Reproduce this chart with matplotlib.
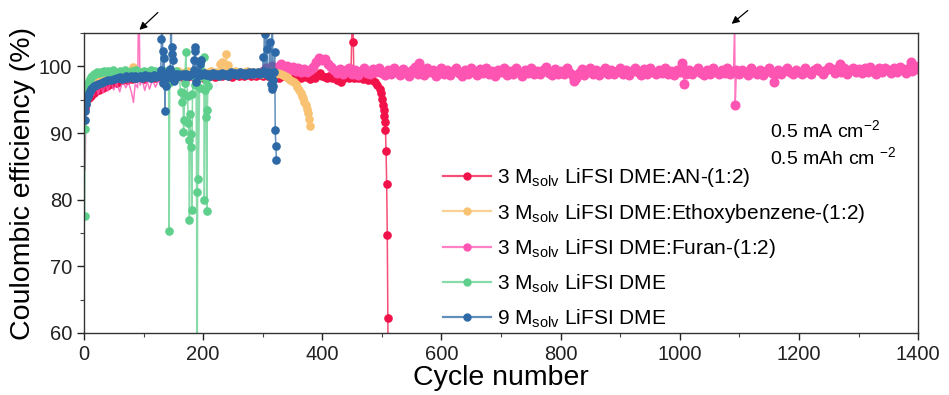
import matplotlib
matplotlib.use("Agg")
import matplotlib.pyplot as plt
from matplotlib.lines import Line2D
from matplotlib.ticker import MultipleLocator

plt.rcParams['font.family'] = ['Liberation Sans', 'DejaVu Sans']
plt.rcParams['mathtext.fontset'] = 'custom'
plt.rcParams['mathtext.rm'] = 'Liberation Sans'
plt.rcParams['mathtext.it'] = 'Liberation Sans:italic'

# ---------------- data ----------------
labels = ["3 M$_{\\mathrm{solv}}$ LiFSI DME:AN-(1:2)",
          "3 M$_{\\mathrm{solv}}$ LiFSI DME:Ethoxybenzene-(1:2)",
          "3 M$_{\\mathrm{solv}}$ LiFSI DME:Furan-(1:2)",
          "3 M$_{\\mathrm{solv}}$ LiFSI DME",
          "9 M$_{\\mathrm{solv}}$ LiFSI DME"]
colors = ["#F2124A", "#F8C272", "#FF55B2", "#5FCF8C", "#2D69A6"]

# --- 3 M DME:AN (red)
an_early_c = [1, 2, 3, 4, 5, 6, 8, 10, 12, 14, 16, 18, 20, 23, 26, 29, 32, 35, 38, 42, 46, 50, 55, 60]
an_early_v = [93.8, 94.6, 95.0, 94.4, 95.3, 95.8, 95.2, 96.0, 95.6, 96.4, 96.0, 96.7, 96.3, 96.9, 96.5,
              97.2, 96.8, 97.4, 97.0, 97.6, 97.3, 97.8, 97.5, 98.0]
an_mid_c = list(range(64, 497, 4))
an_mid_v = [98.0, 98.2, 97.9, 98.3, 98.1, 98.4, 98.2, 98.5, 98.3, 98.1, 98.4, 98.6, 98.2, 98.5, 98.3, 98.6, 98.4, 98.2, 98.5, 98.7,
            98.4, 98.6, 98.3, 98.5, 98.7, 98.4, 98.6, 98.2, 98.5, 98.7, 98.4, 98.6, 98.8, 98.5, 98.3, 98.6, 98.8, 98.5, 98.7, 98.4,
            98.6, 98.8, 98.5, 98.7, 98.9, 98.6, 98.4, 98.7, 98.9, 98.6, 98.8, 98.5, 98.7, 98.9, 98.6, 98.8, 98.5, 98.7, 98.9, 98.6,
            98.8, 98.5, 98.7, 98.4, 98.8, 98.6, 98.3, 98.7, 98.5, 98.9, 98.4, 98.6, 98.2, 98.7, 98.5, 98.3, 98.8, 98.4, 98.6, 98.1,
            98.5, 98.3, 98.7, 99.0, 98.6, 98.4, 98.2, 98.6, 98.3, 98.5, 97.9, 98.4, 97.7, 98.3, 98.5, 98.2, 98.4, 98.1, 98.5, 98.2,
            98.4, 98.1, 98.3, 98.0, 98.2, 97.9, 97.7, 97.2, 96.6]
an_event_c = [451, 452, 453, 498, 500, 502, 503, 504, 505, 506, 507, 508, 509, 510, 511]
an_event_v = [112.0, 103.7, 98.2, 96.0, 95.1, 94.2, 93.4, 92.6, 91.6, 90.5, 87.3, 82.3, 74.7, 62.3, 40.0]

# --- 3 M DME:Ethoxybenzene (orange)
eb_early_c = [1, 2, 3, 4, 5, 7, 9, 11, 13, 15, 18, 21, 24, 27, 30, 34, 38, 42, 46, 50]
eb_early_v = [96.4, 95.9, 96.8, 97.0, 96.6, 97.4, 97.2, 97.8, 97.6, 98.1, 97.9, 98.3, 98.2, 98.5, 98.4,
              98.7, 98.6, 98.8, 98.7, 98.9]
eb_mid_c = list(range(54, 335, 4))
eb_mid_v = [98.9, 98.7, 99.0, 98.8, 99.1, 98.9, 98.7, 99.0, 99.2, 98.9, 99.1, 98.8, 99.0, 99.2, 98.9, 99.1, 98.8, 99.0, 99.2, 98.9,
            99.1, 98.8, 99.0, 99.2, 98.9, 99.1, 99.3, 99.0, 98.8, 99.1, 99.3, 99.0, 99.2, 98.9, 99.1, 99.3, 99.0, 99.2, 98.9, 99.1,
            99.3, 99.0, 99.2, 99.0, 99.1, 99.3, 99.0, 99.2, 98.9, 99.1, 99.3, 99.0, 99.2, 98.9, 99.1, 99.3, 99.0, 99.2, 98.9, 99.1,
            99.2, 98.9, 99.1, 99.0, 99.2, 98.9, 99.1, 98.8, 99.0, 98.9, 98.7]
eb_event_c = [83, 229, 231, 239, 241, 337, 340, 343, 346, 349, 352, 355, 358, 361, 364, 366, 368, 370, 372, 374, 376, 378, 380]
eb_event_v = [99.9, 100.3, 100.6, 101.8, 100.2, 98.6, 98.4, 98.2, 98.0, 97.8, 97.6, 97.3, 96.9, 96.5, 96.0, 95.6, 95.2,
              94.7, 94.2, 93.6, 93.0, 92.1, 91.0]

# --- 3 M DME:Furan (pink)
fu_early_c = [1, 2, 3, 4, 6, 8, 10, 13, 16, 20, 24, 28, 32, 36, 40, 45, 50, 55, 60, 65, 70, 75, 80, 83, 86, 90,
              92, 94, 98, 102, 106, 110, 115, 120, 125, 130, 135, 140, 145, 150, 160, 170, 180, 190, 200, 210,
              220, 230, 240, 250, 260, 270, 280, 290]
fu_early_v = [96.5, 84.5, 93.0, 95.0, 94.8, 96.0, 95.5, 96.8, 95.6, 97.2, 95.8, 97.4, 96.0, 97.6, 96.3, 97.8, 96.5,
              97.5, 96.2, 97.9, 96.8, 97.6, 96.0, 94.6, 97.4, 96.8, 112.0, 97.2, 97.9, 96.4, 97.8, 96.6, 98.0, 96.9,
              97.9, 97.0, 98.1, 97.3, 98.2, 97.5, 98.3, 97.8, 98.5, 98.0, 98.6, 98.2, 98.7, 98.4, 98.8, 98.6, 98.9,
              98.7, 99.0, 98.8]
fu_band_c = list(range(300, 1401, 5))
fu_band_v = [99.3, 99.8, 99.5, 100.1, 99.4, 99.9, 100.3, 99.6, 100.0, 99.4, 99.9, 99.3, 99.7, 99.1, 99.6, 99.2, 99.5, 99.9, 100.6, 101.3,
             100.9, 101.1, 100.4, 99.9, 99.5, 99.0, 99.6, 98.8, 99.4, 99.7, 98.9, 99.5, 98.7, 99.3, 99.8, 99.0, 98.8, 99.6, 99.1, 99.7,
             99.0, 98.7, 99.5, 98.9, 99.8, 99.2, 98.7, 99.6, 99.1, 98.6, 99.5, 99.9, 98.9, 99.3, 98.7, 99.7, 99.1, 99.5, 98.6, 99.3,
             99.7, 98.9, 99.5, 98.7, 99.3, 99.8, 99.0, 98.6, 99.5, 98.9, 99.7, 99.2, 98.7, 99.6, 99.0, 99.8, 98.9, 99.3, 98.6, 99.5,
             99.1, 99.7, 98.7, 99.3, 98.9, 99.8, 99.2, 98.6, 99.5, 99.0, 99.7, 98.8, 99.3, 98.9, 99.5, 99.9, 99.0, 98.7, 99.6, 98.9,
             99.3, 98.8, 99.7, 99.0, 98.6, 98.3, 99.0, 99.6, 98.7, 99.3, 99.8, 98.9, 99.5, 98.7, 99.3, 99.7, 98.9, 99.5, 98.8, 99.3,
             99.7, 98.9, 99.5, 98.7, 99.3, 99.8, 99.1, 98.7, 99.6, 98.9, 99.7, 99.2, 98.8, 99.5, 99.0, 99.7, 98.9, 99.3, 98.7, 99.5,
             99.1, 99.7, 98.9, 99.5, 98.8, 99.3, 99.8, 99.0, 98.7, 99.5, 98.9, 99.7, 99.2, 98.8, 99.5, 99.0, 99.7, 98.9, 99.3, 99.5,
             98.9, 99.5, 99.1, 98.7, 99.7, 99.2, 98.9, 99.5, 98.7, 99.3, 99.7, 99.0, 98.8, 99.5, 98.9, 99.3, 99.8, 99.1, 98.8, 99.5,
             99.2, 98.9, 99.7, 99.1, 98.8, 99.5, 99.8, 99.3, 98.9, 99.5, 99.9, 99.6, 99.0, 99.8, 99.2, 99.7, 98.9, 99.5, 99.8, 99.2,
             99.6, 99.0, 99.8, 99.2, 99.9, 99.4, 98.9, 99.7, 99.2, 99.8, 99.4, 99.0, 99.8, 99.2, 99.9, 99.6, 99.0, 99.8, 99.3, 100.0,
             99.6]
fu_event_c = [562, 822, 1004, 1007, 1092, 1093, 1158, 1268, 1388]
fu_event_v = [100.5, 97.8, 100.5, 97.3, 106.1, 94.2, 97.6, 100.4, 100.6]

# --- 3 M DME (green)
dme3_early_c = [1, 2, 3, 4, 5, 6, 8, 10, 12, 14, 16, 19, 22, 25, 28, 31, 34, 37, 40, 44, 48]
dme3_early_v = [77.6, 90.6, 94.5, 96.0, 96.8, 97.3, 97.8, 98.1, 98.4, 98.6, 98.8, 98.9, 99.1, 99.0, 99.2, 99.1,
                99.3, 99.2, 99.3, 99.2, 99.4]
dme3_mid_c = list(range(52, 141, 4))
dme3_mid_v = [99.2, 99.0, 99.3, 99.1, 99.4, 99.2, 99.0, 99.3, 99.1, 99.4, 99.2, 99.0, 99.3, 99.1, 99.2, 99.4,
              99.0, 99.3, 99.1, 99.2, 99.0, 99.3, 99.1]
dme3_late_c = [141, 142, 143, 144, 146, 148, 150, 152, 154, 156, 158, 160, 162, 164, 166, 167, 168, 169, 171, 172,
               174, 175, 176, 177, 178, 179, 180, 181, 182, 184, 186, 188, 189, 190, 191, 192, 194, 196, 198, 200,
               201, 202, 203, 204, 205, 206, 207, 208]
dme3_late_v = [99.0, 97.5, 75.3, 98.6, 99.2, 98.8, 99.1, 98.9, 99.3, 98.7, 99.0, 98.5, 96.2, 94.6, 96.0, 90.1, 92.0,
               97.5, 102.2, 98.8, 95.5, 91.5, 89.0, 76.9, 92.9, 89.9, 87.9, 78.4, 95.9, 98.5, 97.2, 99.0, 81.1, 45.0,
               98.2, 83.1, 96.8, 98.9, 99.2, 98.6, 101.4, 79.9, 96.5, 92.4, 98.0, 78.3, 93.4, 97.0]

# --- 9 M DME (blue)
dme9_early_c = [1, 2, 3, 4, 5, 6, 8, 10, 12, 14, 17, 20, 24, 28, 32, 36, 40, 45, 50, 55]
dme9_early_v = [92.0, 93.3, 94.3, 94.9, 95.3, 95.6, 96.0, 96.3, 96.6, 96.8, 97.0, 97.2, 97.4, 97.5, 97.7, 97.8,
                97.9, 98.0, 98.1, 98.2]
dme9_mid_c = list(range(58, 299, 3))
dme9_mid_v = [98.2, 98.4, 98.1, 98.3, 98.5, 98.2, 98.4, 98.6, 98.3, 98.5, 98.2, 98.4, 98.6, 98.3, 98.5, 98.7, 98.4, 98.6, 98.3, 98.5,
              98.7, 98.4, 98.6, 98.8, 98.5, 98.7, 98.4, 98.6, 98.8, 98.5, 98.7, 98.9, 98.6, 98.8, 98.5, 98.7, 98.9, 98.6, 98.8, 98.5,
              98.7, 98.9, 98.6, 98.8, 99.0, 98.7, 98.5, 98.8, 99.0, 98.7, 98.9, 98.6, 98.8, 99.0, 98.7, 98.9, 98.6, 98.8, 99.0, 98.7,
              98.9, 98.6, 98.8, 99.1, 98.8, 99.0, 98.7, 98.9, 99.1, 98.8, 99.0, 98.7, 98.9, 99.2, 98.9, 99.1, 98.8, 99.0, 99.2, 98.9,
              99.0]
dme9_event_c = [129, 130, 131, 132, 133, 134, 135, 136, 137, 138, 139, 145, 146, 147, 148, 149, 150, 151, 152,
                184, 185, 186, 187, 188, 189, 195, 196, 197,
                300, 301, 302, 303, 304, 305, 306, 307, 308, 310, 312, 313, 314, 315, 316, 317, 318, 319, 320,
                321, 322, 323]
dme9_event_v = [99.5, 104.2, 112.0, 102.4, 97.5, 101.2, 98.0, 93.3, 99.0, 97.0, 98.3, 99.6, 112.0, 102.9, 101.9,
                100.9, 98.6, 97.8, 98.9,
                100.9, 99.5, 102.9, 102.4, 97.6, 99.2, 100.3, 100.9, 98.7,
                99.3, 101.4, 99.0, 112.0, 104.9, 98.8, 112.0, 102.7, 99.2, 98.6, 103.7, 99.0, 97.4, 96.6, 112.0,
                98.0, 97.0, 99.2, 102.2, 90.4, 88.1, 86.0]

x_ticks = [0, 200, 400, 600, 800, 1000, 1200, 1400]
y_ticks = [60, 70, 80, 90, 100]


def merge(*pairs):
    d = {}
    for c, v in pairs:
        for ci, vi in zip(c, v):
            d[ci] = vi
    cs = sorted(d)
    return cs, [d[c] for c in cs]


an_c, an_v = merge((an_early_c, an_early_v), (an_mid_c, an_mid_v), (an_event_c, an_event_v))
eb_c, eb_v = merge((eb_early_c, eb_early_v), (eb_mid_c, eb_mid_v), (eb_event_c, eb_event_v))
fu_c, fu_v = merge((fu_early_c, fu_early_v), (fu_band_c, fu_band_v), (fu_event_c, fu_event_v))
d3_c, d3_v = merge((dme3_early_c, dme3_early_v), (dme3_mid_c, dme3_mid_v), (dme3_late_c, dme3_late_v))
d9_c, d9_v = merge((dme9_early_c, dme9_early_v), (dme9_mid_c, dme9_mid_v), (dme9_event_c, dme9_event_v))

# ---------------- figure ----------------
fig = plt.figure(figsize=(9.49, 3.95), dpi=100)
ax = fig.add_axes([0.0885, 0.157, 0.879, 0.759])

ms = 5.2
lw = 1.1


def rgba(hexc, a):
    h = hexc.lstrip('#')
    return (int(h[0:2], 16) / 255, int(h[2:4], 16) / 255, int(h[4:6], 16) / 255, a)


series = [(an_c, an_v, 0), (fu_c, fu_v, 2), (eb_c, eb_v, 1), (d3_c, d3_v, 3), (d9_c, d9_v, 4)]
for cs, vs, i in series:
    col = colors[i]
    if i == 2:
        mk = [k for k, c in enumerate(cs) if c >= 300]
        ax.plot(cs, vs, '-', color=rgba(col, 0.8), lw=lw, marker='o', ms=6.2,
                markerfacecolor=col, markeredgecolor=col, markevery=mk, zorder=2)
    else:
        ax.plot(cs, vs, '-', color=rgba(col, 0.75), lw=lw, marker='o', ms=ms,
                markerfacecolor=col, markeredgecolor=col, zorder=2)

handles = []
for i in range(5):
    handles.append(Line2D([], [], color=rgba(colors[i], 0.75), lw=1.6, marker='o', ms=5,
                          markerfacecolor=colors[i], markeredgecolor=colors[i]))

ax.set_xlim(0, 1400)
ax.set_ylim(60, 105)
ax.set_xticks(x_ticks)
ax.set_yticks(y_ticks)
ax.xaxis.set_minor_locator(MultipleLocator(100))
ax.yaxis.set_minor_locator(MultipleLocator(5))
ax.tick_params(which='major', direction='out', length=5, width=1, labelsize=14.5, colors='#222222')
ax.tick_params(which='minor', direction='out', length=3, width=0.8, colors='#444444')
for s in ax.spines.values():
    s.set_color('#333333')
    s.set_linewidth(1.0)

ax.set_xlabel("Cycle number", fontsize=20.5, labelpad=1)
ax.set_ylabel("Coulombic efficiency (%)", fontsize=20.5, labelpad=2)

leg = ax.legend(handles, labels, loc='lower left', bbox_to_anchor=(0.413, -0.038), frameon=False,
                fontsize=15, handlelength=2.3, handletextpad=0.3, labelspacing=0.6, borderpad=0.2)

ax.text(0.822, 0.677, "0.5 mA cm$^{-2}$", transform=ax.transAxes, fontsize=14, va='center', ha='left')
ax.text(0.822, 0.587, "0.5 mAh cm $^{-2}$", transform=ax.transAxes, fontsize=14, va='center', ha='left')

arrow = dict(arrowstyle='-|>', color='black', lw=0.9, mutation_scale=11, shrinkA=0, shrinkB=0)
ax.annotate("", xy=(93, 105.5), xytext=(124, 108.1), arrowprops=arrow, annotation_clip=False)
ax.annotate("", xy=(1087, 106.4), xytext=(1114, 108.4), arrowprops=arrow, annotation_clip=False)

fig.savefig("out.png", dpi=100)
